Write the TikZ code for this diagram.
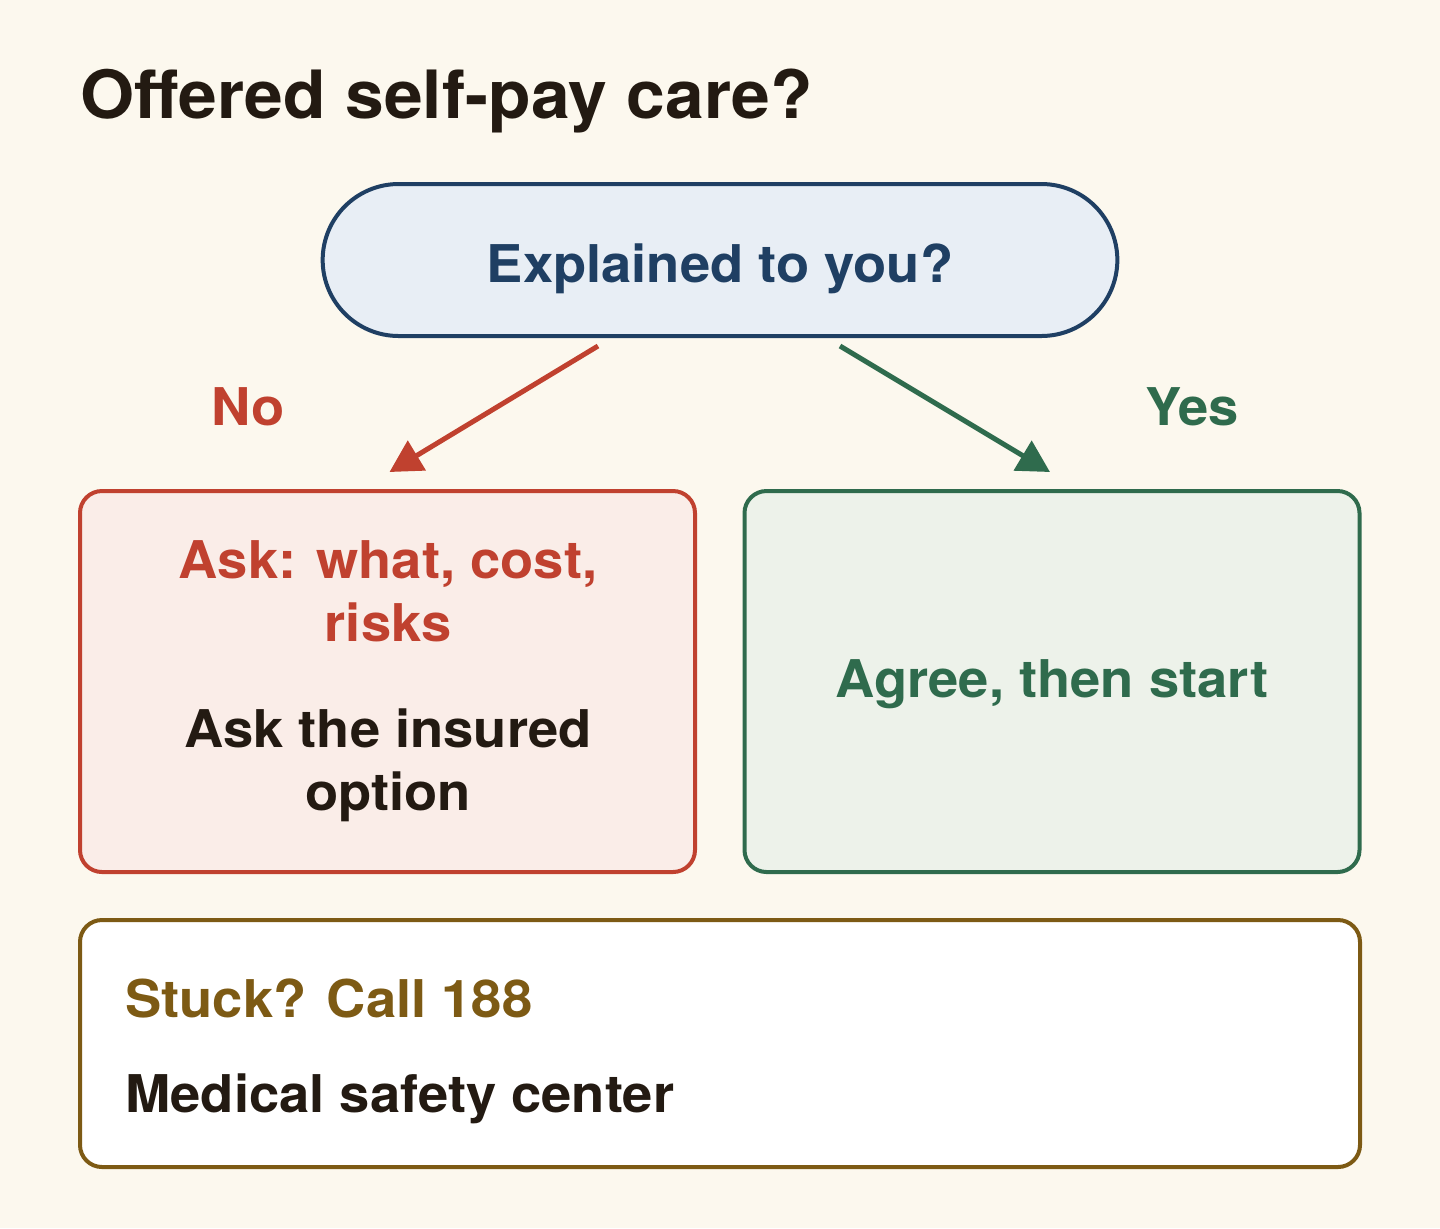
\documentclass[tikz,border=0pt]{standalone}
\usepackage{fontspec}
\setmainfont{TeX Gyre Heros}[FakeStretch=1.045]
\usepackage{tikz}
\usetikzlibrary{positioning, arrows.meta, shapes.misc}
\definecolor{paper}{HTML}{FCF8EE}
\definecolor{ink}{HTML}{231A12}
\definecolor{navy}{HTML}{1F3F63}
\definecolor{navyfill}{HTML}{E8EEF5}
\definecolor{rust}{HTML}{C0412F}
\definecolor{rustfill}{HTML}{FAEDE8}
\definecolor{pine}{HTML}{2F6B4D}
\definecolor{pinefill}{HTML}{EDF2EA}
\definecolor{ochre}{HTML}{7D5A14}
\tikzset{%
	>={Triangle[length=16pt, width=17pt]},
	every edge/.append style={line width = 2.5pt},
	big/.style = {font = \bfseries\fontsize{26}{31.5}\selectfont},
	ques/.style = {name = #1, rounded rectangle, draw = navy, fill = navyfill, line width = 2pt, minimum width = 404pt, minimum height = 76pt},
	box/.style = {name = #1, rectangle, rounded corners = 11pt, line width = 2pt, minimum width = 307.5pt, minimum height = 190.5pt},
	txt/.style = {big, align = center, inner sep = 0pt}
}
\begin{document}
\begin{tikzpicture}[x=0.5pt, y=-0.5pt]
			\useasboundingbox (0,0) rectangle (1440,1228);
			\fill [paper] (0,0) rectangle (1440,1228);
			\node [anchor = base west, inner sep = 0pt, text = ink, font = \bfseries\fontsize{33.3}{40}\selectfont] (title) at (80,118) {Offered self-pay care?};
			\node [ques = {q}] at (720,260) {};
			\node [anchor = base, inner sep = 0pt, big, text = navy] (qtxt) at (720,282) {Explained to you?};
			\node [box = {noBox}, draw = rust, fill = rustfill] at (387.5,681.5) {};
			\node [box = {yesBox}, draw = pine, fill = pinefill] at (1052,681.5) {};
			\node [box = {help}, draw = ochre, fill = white, minimum width = 640pt, minimum height = 123.5pt] at (720,1043.5) {};
			\coordinate (qL) at ([xshift = -61pt, yshift = -4pt]q.south);
			\coordinate (qR) at ([xshift = 60pt, yshift = -4pt]q.south);
			\coordinate (noTop) at ([xshift = 1pt, yshift = 8.5pt]noBox.north);
			\coordinate (yesTop) at ([xshift = -1pt, yshift = 8.5pt]yesBox.north);
			\path [->, rust] (qL) edge (noTop);
			\path [->, pine] (qR) edge (yesTop);
			\node [anchor = base, inner sep = 0pt, big, text = rust] (noLbl) at (248,425) {No};
			\node [anchor = base, inner sep = 0pt, big, text = pine] (yesLbl) at (1192,425) {Yes};
			\node [txt, text = rust] (askA) at (388,591) {Ask: what, cost,\\risks};
			\node [txt, text = ink] (askB) at (388,765) {Ask the insured\\option};
			\node [anchor = base, txt, text = pine] (agree) at (1052,697) {Agree, then start};
			\node [anchor = base west, txt, text = ochre] (stuck) at (125,1017) {Stuck? Call 188};
			\node [anchor = base west, txt, text = ink] (centre) at (125,1112) {Medical safety center};
			\end{tikzpicture}
\end{document}
